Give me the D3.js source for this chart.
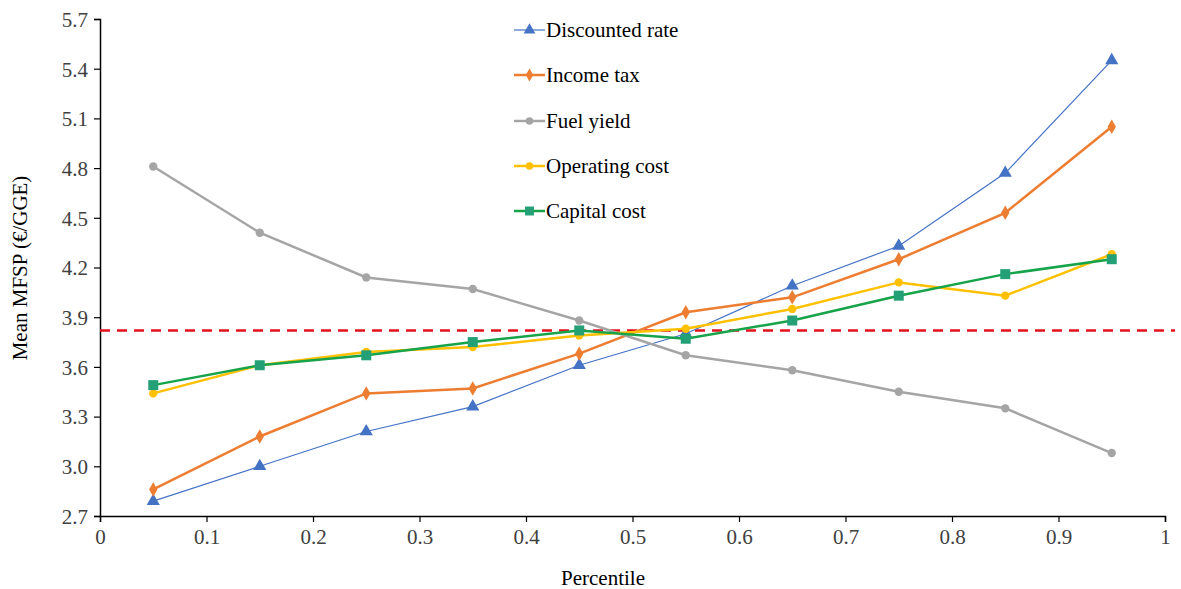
<!DOCTYPE html>
<html>
<head>
<meta charset="utf-8">
<script src="https://cdn.jsdelivr.net/npm/d3@7"></script>
<style>
html,body{margin:0;padding:0;background:#fff;}
svg{display:block;}
text{font-family:"Liberation Serif","Times New Roman",serif;}
</style>
</head>
<body>
<svg id="chart" width="1181" height="589"></svg>
<script>
const percentiles = [0.05,0.15,0.25,0.35,0.45,0.55,0.65,0.75,0.85,0.95];
const seriesNames = ["Discounted rate","Income tax","Fuel yield","Operating cost","Capital cost"];
const discountedRate = [2.79,3.00,3.21,3.36,3.61,3.80,4.09,4.33,4.77,5.45];
const incomeTax      = [2.86,3.18,3.44,3.47,3.68,3.93,4.02,4.25,4.53,5.05];
const fuelYield      = [4.81,4.41,4.14,4.07,3.88,3.67,3.58,3.45,3.35,3.08];
const operatingCost  = [3.44,3.61,3.69,3.72,3.79,3.83,3.95,4.11,4.03,4.28];
const capitalCost    = [3.49,3.61,3.67,3.75,3.82,3.77,3.88,4.03,4.16,4.25];
const baseline = 3.82;
const xTicks = [0,0.1,0.2,0.3,0.4,0.5,0.6,0.7,0.8,0.9,1];
const yTicks = [2.7,3.0,3.3,3.6,3.9,4.2,4.5,4.8,5.1,5.4,5.7];

const styles = [
  {color:"#4472C4", mcolor:"#4472C4", width:1.2, marker:d3.symbolTriangle, msize:75},
  {color:"#ED7D31", mcolor:"#ED7D31", width:2.5, marker:d3.symbolDiamond, msize:60},
  {color:"#A5A5A5", mcolor:"#A5A5A5", width:2.5, marker:d3.symbolCircle, msize:55},
  {color:"#FFC000", mcolor:"#FFC000", width:2.5, marker:d3.symbolCircle, msize:55},
  {color:"#17A34A", mcolor:"#24A077", width:2.5, marker:d3.symbolSquare, msize:100}
];
const allSeries = [discountedRate,incomeTax,fuelYield,operatingCost,capitalCost];

const svg = d3.select("#chart");
const x = d3.scaleLinear().domain([0,1]).range([100,1165]);
const y = d3.scaleLinear().domain([2.7,5.7]).range([516,19]);

// axes
const xAxis = d3.axisBottom(x).tickValues(xTicks).tickSize(6).tickFormat(d=>String(+d.toFixed(1)));
const yAxis = d3.axisLeft(y).tickValues(yTicks).tickSize(6).tickFormat(d3.format(".1f"));
const gx = svg.append("g").attr("transform","translate(0,516)").call(xAxis);
const gy = svg.append("g").attr("transform","translate(100,0)").call(yAxis);
[gx,gy].forEach(g=>{
  g.attr("font-family",null).attr("font-size",null);
  g.select(".domain").attr("stroke","#000").attr("stroke-width",1.5);
  g.selectAll(".tick line").attr("stroke","#000").attr("stroke-width",1.2);
  g.selectAll(".tick text").attr("fill","#404040").style("font-size","21px").style("font-family","'Liberation Serif',serif");
});
gx.selectAll(".tick text").attr("y",12).attr("dy","0.75em");
gy.selectAll(".tick text").attr("x",-12).attr("dy","0.35em");

// baseline
svg.append("line")
  .attr("x1",x(0)).attr("x2",1175)
  .attr("y1",y(baseline)).attr("y2",y(baseline))
  .attr("stroke","#E3101E").attr("stroke-width",2.5)
  .attr("stroke-dasharray","10,7");

// series
const line = d3.line().x((d,i)=>x(percentiles[i])).y(d=>y(d));
allSeries.forEach((vals,k)=>{
  const s = styles[k];
  svg.append("path").datum(vals).attr("d",line)
    .attr("fill","none").attr("stroke",s.color).attr("stroke-width",s.width);
  svg.append("g").selectAll("path").data(vals).join("path")
    .attr("d",d3.symbol().type(s.marker).size(s.msize))
    .attr("transform",(d,i)=>`translate(${x(percentiles[i])},${y(d)})`)
    .attr("fill",s.mcolor);
});

// legend
const legY = [30,75,121,166,211];
seriesNames.forEach((name,k)=>{
  const s = styles[k];
  const g = svg.append("g").attr("transform",`translate(514,${legY[k]})`);
  g.append("line").attr("x1",0).attr("x2",31).attr("y1",0).attr("y2",0)
    .attr("stroke",s.color).attr("stroke-width",s.width);
  g.append("path").attr("d",d3.symbol().type(s.marker).size(s.msize*0.8)())
    .attr("transform","translate(15.5,0)").attr("fill",s.mcolor);
  g.append("text").attr("x",32).attr("y",7).attr("fill","#000")
    .style("font-size","21px").text(name);
});

// axis titles
svg.append("text").attr("x",603).attr("y",585).attr("text-anchor","middle")
  .attr("fill","#000").style("font-size","21px").text("Percentile");
svg.append("text").attr("transform","translate(27,268) rotate(-90)")
  .attr("text-anchor","middle").attr("fill","#000").style("font-size","21px")
  .text("Mean MFSP (€/GGE)");
</script>
</body>
</html>
